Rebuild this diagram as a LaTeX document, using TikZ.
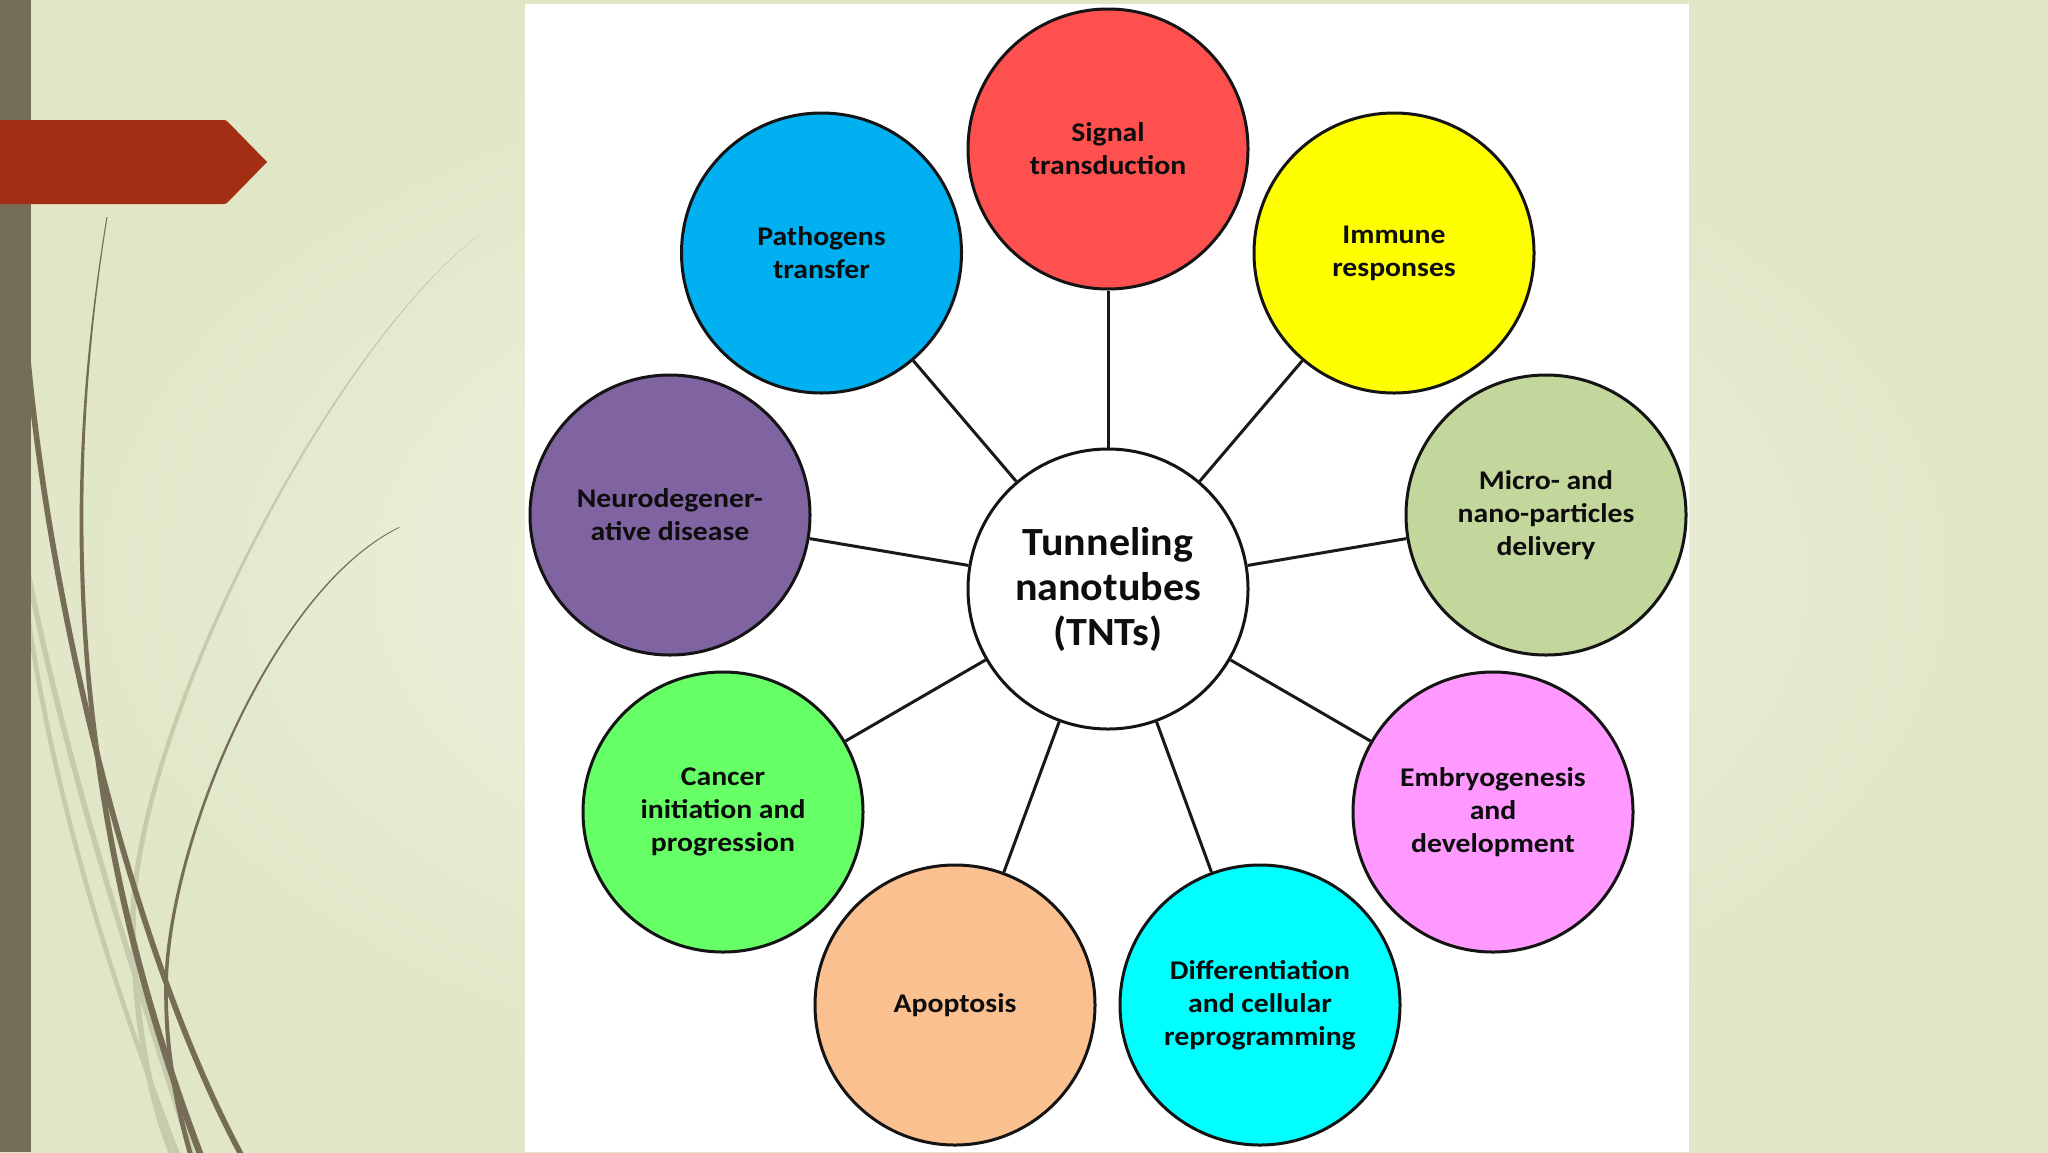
\documentclass[tikz,border=0pt]{standalone}
\usepackage{fontspec}
\newfontfamily\lblfont{Carlito}[FakeStretch=1.10]
\newfontfamily\ctrfont{Carlito}[FakeStretch=1.05]
\definecolor{bgin}{HTML}{F2F5E8}
\definecolor{bgout}{HTML}{E0E6C6}
\definecolor{barc}{HTML}{766D57}
\definecolor{arrowc}{HTML}{A32E14}
\definecolor{dk}{HTML}{766D57}
\definecolor{pale}{HTML}{C6CBAE}
\definecolor{cSig}{HTML}{FF5050}
\definecolor{cPat}{HTML}{00B0F0}
\definecolor{cImm}{HTML}{FFFF00}
\definecolor{cMic}{HTML}{C3D69B}
\definecolor{cEmb}{HTML}{FF99FF}
\definecolor{cDif}{HTML}{00FFFF}
\definecolor{cApo}{HTML}{FAC090}
\definecolor{cCan}{HTML}{66FF66}
\definecolor{cNeu}{HTML}{8064A2}
\begin{document}
\begin{tikzpicture}[x=0.5pt,y=-0.5pt,
  bub/.style={circle, draw=black!92, line width=1.5pt, minimum size=140pt, inner sep=0pt,
    align=center, text=black!95, font=\lblfont\bfseries\fontsize{13.5}{16.5}\selectfont},
  conn/.style={draw=black!90, line width=1.5pt},
  palestroke/.style={draw=pale, line width=2.7pt},
  darkstroke/.style={draw=dk, line width=2.8pt}
]
\useasboundingbox (0,0) rectangle (2048,1152);
\shade[inner color=bgin, outer color=bgout] (0,0) rectangle (2048,1152);

% pale decorative curves
\draw[palestroke] (28,573) .. controls (70,780) and (130,960) .. (194,1160);
\draw[palestroke, line width=2.3pt] (28,617) .. controls (55,800) and (110,980) .. (180,1160);
\fill[pale] (478.7,235) .. controls (339,340) and (143,700) .. (130.3,910)
  .. controls (130,1020) and (147,1100) .. (171,1160)
  -- (177,1160) .. controls (153,1100) and (136,1020) .. (135.7,910)
  .. controls (147,700) and (341,340) .. (479.3,235) -- cycle;

% dark decorative curves
\draw[darkstroke] (28,360) .. controls (50,600) and (130,950) .. (244,1160);
\fill[dk] (106.5,217) .. controls (89.5,320) and (80,420) .. (79.6,520)
  .. controls (79.2,720) and (111,930) .. (199,1160)
  -- (206,1160) .. controls (118,930) and (83.8,720) .. (83.4,520)
  .. controls (83,420) and (91,320) .. (107.5,217) -- cycle;
\fill[dk] (399,527) .. controls (269.5,590) and (164.5,850) .. (164.2,990)
  .. controls (163.9,1060) and (175.5,1110) .. (189.5,1160)
  -- (194.5,1160) .. controls (180.5,1110) and (168.1,1060) .. (167.8,990)
  .. controls (167.5,850) and (271,591) .. (399.6,527.6) -- cycle;

% left bar and red arrow
\fill[barc] (0,0) rectangle (31,1152);
\fill[arrowc] (0,120) -- (223,120) .. controls (225,120) and (226,120.5) .. (227,121) -- (267,162) -- (227,203) .. controls (226,203.5) and (225,204) .. (223,204) -- (0,204) -- cycle;

% white panel
\fill[white] (525,4) rectangle (1689,1152);

% nodes
\node[bub, fill=white, font=\ctrfont\bfseries\fontsize{20}{22.5}\selectfont] (ctr) at (1108,589) {Tunneling\\nanotubes\\(TNTs)};
\node[bub, fill=cSig] (sig) at (1108,149) {Signal\\transduction};
\node[bub, fill=cImm] (imm) at (1394,253) {Immune\\responses};
\node[bub, fill=cMic] (mic) at (1546,515) {Micro- and\\nano-particles\\delivery};
\node[bub, fill=cEmb] (emb) at (1493,812) {Embryogenesis\\and\\development};
\node[bub, fill=cDif] (dif) at (1260,1005) {Differentiation\\and cellular\\reprogramming};
\node[bub, fill=cApo] (apo) at (955,1005) {Apoptosis};
\node[bub, fill=cCan] (can) at (723,812) {Cancer\\initiation and\\progression};
\node[bub, fill=cNeu] (neu) at (670,515) {Neurodegener-\\ative disease};
\node[bub, fill=cPat] (pat) at (821.5,253) {Pathogens\\transfer};

% connectors
\foreach \t in {sig,imm,mic,emb,dif,apo,can,neu,pat}
  \draw[conn] (ctr) -- (\t);
\end{tikzpicture}
\end{document}
